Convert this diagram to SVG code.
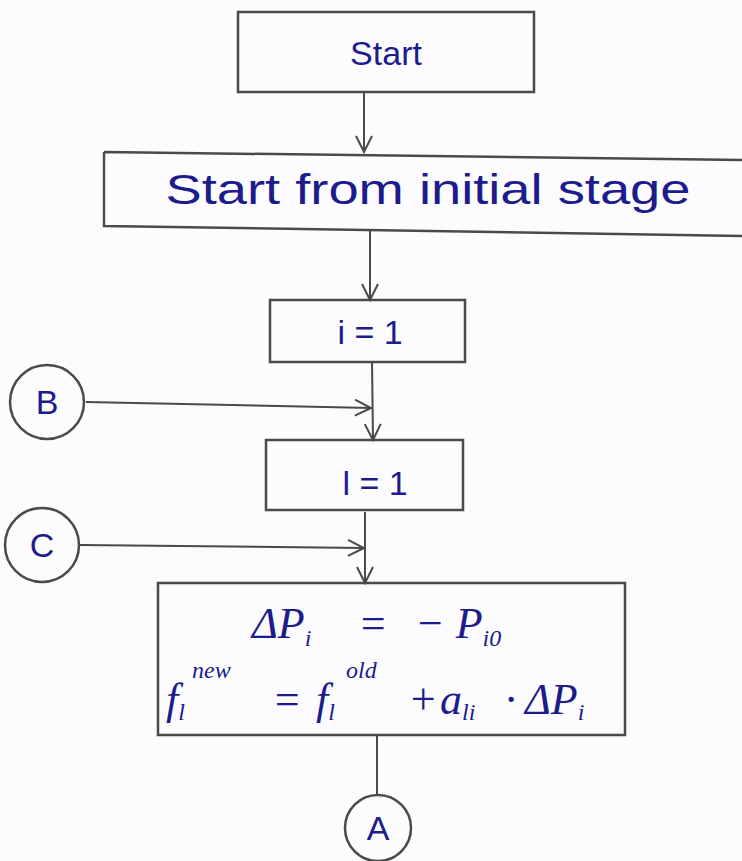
<svg xmlns="http://www.w3.org/2000/svg" width="742" height="861" viewBox="0 0 742 861">
<style>
.box{fill:none;stroke:#4a4a4a;stroke-width:2.5}
.ln{fill:none;stroke:#4a4a4a;stroke-width:2}
.t{font-family:"Liberation Sans",sans-serif;fill:#1c1c8c;font-size:34px}
.m{font-family:"Liberation Serif",serif;font-style:italic;fill:#1c1c8c;font-size:44px}
.s{font-size:24px}
</style>
<defs>
<marker id="ah" viewBox="0 0 20 20" refX="18" refY="10" markerWidth="20" markerHeight="20" markerUnits="userSpaceOnUse" orient="auto">
<path d="M2,2 L18,10 L2,18" fill="none" stroke="#4a4a4a" stroke-width="2"/>
</marker>
</defs>
<rect width="742" height="861" fill="#fcfbfd"/>
<g id="connectors">
<line class="ln" x1="364" y1="92" x2="364" y2="152" marker-end="url(#ah)"/>
<line class="ln" x1="370" y1="230" x2="370" y2="300" marker-end="url(#ah)"/>
<line class="ln" x1="372" y1="362" x2="373" y2="440" marker-end="url(#ah)"/>
<line class="ln" x1="86" y1="402" x2="371" y2="408" marker-end="url(#ah)"/>
<line class="ln" x1="365" y1="512" x2="365" y2="583" marker-end="url(#ah)"/>
<line class="ln" x1="80" y1="545" x2="364" y2="548" marker-end="url(#ah)"/>
<line class="ln" x1="377" y1="735" x2="377" y2="795"/>
</g>
<g id="start">
<rect class="box" x="238" y="12" width="296" height="80"/>
<text class="t" x="386" y="65" text-anchor="middle">Start</text>
</g>
<g id="initial">
<path class="box" d="M104,152 L745,160 M104,152 L104,226 L745,236"/>
<text class="t" x="428" y="204" text-anchor="middle" style="font-size:42px" textLength="525" lengthAdjust="spacingAndGlyphs">Start from initial stage</text>
</g>
<g id="i1">
<rect class="box" x="270" y="300" width="195" height="62"/>
<text class="t" x="370" y="344" text-anchor="middle">i = 1</text>
</g>
<g id="B">
<circle class="box" cx="47" cy="402" r="37"/>
<text class="t" x="47" y="414" text-anchor="middle">B</text>
</g>
<g id="l1">
<rect class="box" x="266" y="440" width="197" height="70"/>
<text class="t" x="375" y="495" text-anchor="middle">l = 1</text>
</g>
<g id="C">
<circle class="box" cx="42" cy="545" r="37"/>
<text class="t" x="42" y="557" text-anchor="middle">C</text>
</g>
<g id="update">
<rect class="box" x="158" y="583" width="467" height="152"/>
<text class="m" x="252" y="638">ΔP<tspan class="s" dy="8">i</tspan><tspan x="358" dy="-8">=</tspan><tspan x="415">− P</tspan><tspan class="s" dy="8">i0</tspan></text>
<text class="m" x="166" y="714">f<tspan class="s" dy="6">l</tspan><tspan class="s" x="192" dy="-42">new</tspan><tspan x="272" dy="36">=</tspan><tspan x="316">f</tspan><tspan class="s" dy="6">l</tspan><tspan class="s" x="346" dy="-42">old</tspan><tspan x="408" dy="36">+</tspan><tspan x="440">a</tspan><tspan class="s" dy="6">li</tspan><tspan x="505" dy="-6">·</tspan><tspan x="525">ΔP</tspan><tspan class="s" dy="6">i</tspan></text>
</g>
<g id="A">
<circle class="box" cx="378" cy="828" r="33"/>
<text class="t" x="378" y="840" text-anchor="middle">A</text>
</g>
</svg>
